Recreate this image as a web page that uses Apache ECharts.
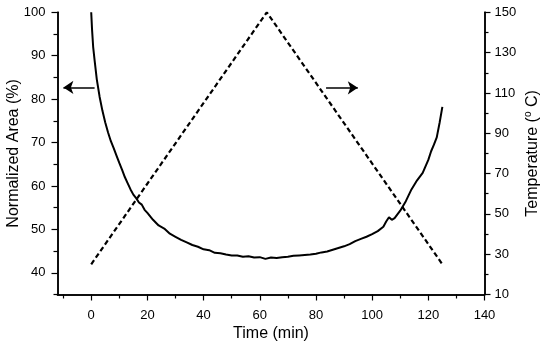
<!DOCTYPE html>
<html>
<head>
<meta charset="utf-8">
<script src="https://cdn.jsdelivr.net/npm/echarts@6/dist/echarts.min.js"></script>
<style>html,body{margin:0;padding:0;background:#fff}#c{width:550px;height:348px}</style>
</head>
<body>
<div id="c"></div>
<script>
// Normalized area curve (left axis)
var timeArea = [0,0.3,0.7,1.2,2,3,4,5,6,7,8,9,10,11,12,13,14,15,16,17,18,19,20,22,24,26,28,30,32,34,36,38,40,42,44,46,48,50,52,54,56,58,60,62,64,66,68,70,72,74,76,78,80,82,84,86,88,90,92,94,96,98,100,102,104,105,106,107,108,110,112,114,116,118,120,121,122,123,124,125];
var areaValues = [100,96,92,89,84.5,80.5,77.3,74.6,72.3,70.3,68.7,67.0,65.3,63.7,62.0,60.6,59.2,58.0,57.2,56.2,55.7,54.5,53.8,52.2,50.9,50.2,49.0,48.3,47.6,47.0,46.4,46.0,45.4,45.2,44.6,44.5,44.2,44.0,44.0,43.7,43.8,43.5,43.6,43.2,43.5,43.4,43.6,43.7,43.9,44.0,44.1,44.2,44.4,44.7,44.9,45.3,45.7,46.1,46.6,47.3,47.8,48.3,48.9,49.6,50.6,51.8,52.8,52.2,52.6,54.3,56.5,59.2,61.3,63.0,66.0,68.0,69.5,71.2,74.5,78.2];
// Temperature program (right axis)
var timeTemp = [0,62.5,125];
var tempValues = [25,150,25];
// Axis ticks
var xTicks = [0,20,40,60,80,100,120,140];
var xMinor = [-10,10,30,50,70,90,110,130];
var leftTicks = [40,50,60,70,80,90,100];
var leftMinor = [35,45,55,65,75,85,95];
var rightTicks = [10,30,50,70,90,110,130,150];
var rightMinor = [20,40,60,80,100,120,140];
// Arrow annotations [x1,y1,x2,y2] in data units (left axis)
var leftArrow = [1.2,82.7,-9.9,82.7];
var rightArrow = [83.6,82.6,94.9,82.6];

function zip(a,b){return a.map(function(v,i){return [v,b[i]];});}
var F = 'Liberation Sans, Arial, sans-serif';
var C = '#000';
var labelStyle = {color:C,fontFamily:F,fontSize:13};
function baseX(ticks, len, showLabel){
  return {type:'value',min:-12,max:140,position:'bottom',
    axisLine:{show:true,onZero:false,lineStyle:{color:C,width:1.5}},
    axisTick:{show:true,customValues:ticks,length:len,inside:false,lineStyle:{color:C,width:1.2}},
    axisLabel:showLabel?Object.assign({customValues:ticks,margin:14},labelStyle):{show:false},
    splitLine:{show:false}};
}
function baseY(min,max,pos,ticks,len,showLabel,margin){
  return {type:'value',min:min,max:max,position:pos,
    axisLine:{show:true,onZero:false,lineStyle:{color:C,width:1.5}},
    axisTick:{show:true,customValues:ticks,length:len,inside:false,lineStyle:{color:C,width:1.2}},
    axisLabel:showLabel?Object.assign({customValues:ticks,margin:margin},labelStyle):{show:false},
    splitLine:{show:false}};
}
var x0 = baseX(xTicks,6,true);
x0.name='Time (min)'; x0.nameLocation='middle'; x0.nameGap=31; x0.nameMoveOverlap=false;
x0.nameTextStyle={color:C,fontFamily:F,fontSize:16};
var x1 = baseX(xMinor,4,false);
var y0 = baseY(35,100,'left',leftTicks,6,true,12);
y0.name='Normalized Area (%)'; y0.nameLocation='middle'; y0.nameGap=36; y0.nameRotate=90; y0.nameMoveOverlap=false;
y0.nameTextStyle={color:C,fontFamily:F,fontSize:16};
var y1 = baseY(10,150,'right',rightTicks,6,true,10);
y1.name='{t|Temperature (}{s|o}{t| C)}'; y1.nameLocation='middle'; y1.nameGap=39; y1.nameRotate=90; y1.nameMoveOverlap=false;
y1.nameTextStyle={color:C,fontFamily:F,fontSize:16,rich:{t:{color:C,fontFamily:F,fontSize:16,lineHeight:18},s:{color:C,fontFamily:F,fontSize:10,verticalAlign:'top',lineHeight:18}}};
var y2 = baseY(35,100,'left',leftMinor,4,false);
var y3 = baseY(10,150,'right',rightMinor,4,false);

var chart = echarts.init(document.getElementById('c'),null,{renderer:'canvas'});
chart.setOption({
  animation:false,
  backgroundColor:'#fff',
  grid:{left:57.5,right:65.5,top:12.3,bottom:53.5,containLabel:false,outerBoundsMode:'none'},
  xAxis:[x0,x1],
  yAxis:[y0,y1,y2,y3],
  series:[
    {type:'line',xAxisIndex:0,yAxisIndex:0,data:zip(timeArea,areaValues),symbol:'none',
     lineStyle:{color:C,width:2},
     markLine:{silent:true,symbol:['none','arrow'],symbolSize:10,label:{show:false},
       lineStyle:{color:C,width:1.5,type:'solid'},
       data:[[{coord:[leftArrow[0],leftArrow[1]]},{coord:[leftArrow[2],leftArrow[3]]}],
             [{coord:[rightArrow[0],rightArrow[1]]},{coord:[rightArrow[2],rightArrow[3]]}]]}},
    {type:'line',xAxisIndex:0,yAxisIndex:1,data:zip(timeTemp,tempValues),symbol:'none',
     lineStyle:{color:C,width:2.2,type:[5,3]}}
  ]
});
</script>
</body>
</html>
